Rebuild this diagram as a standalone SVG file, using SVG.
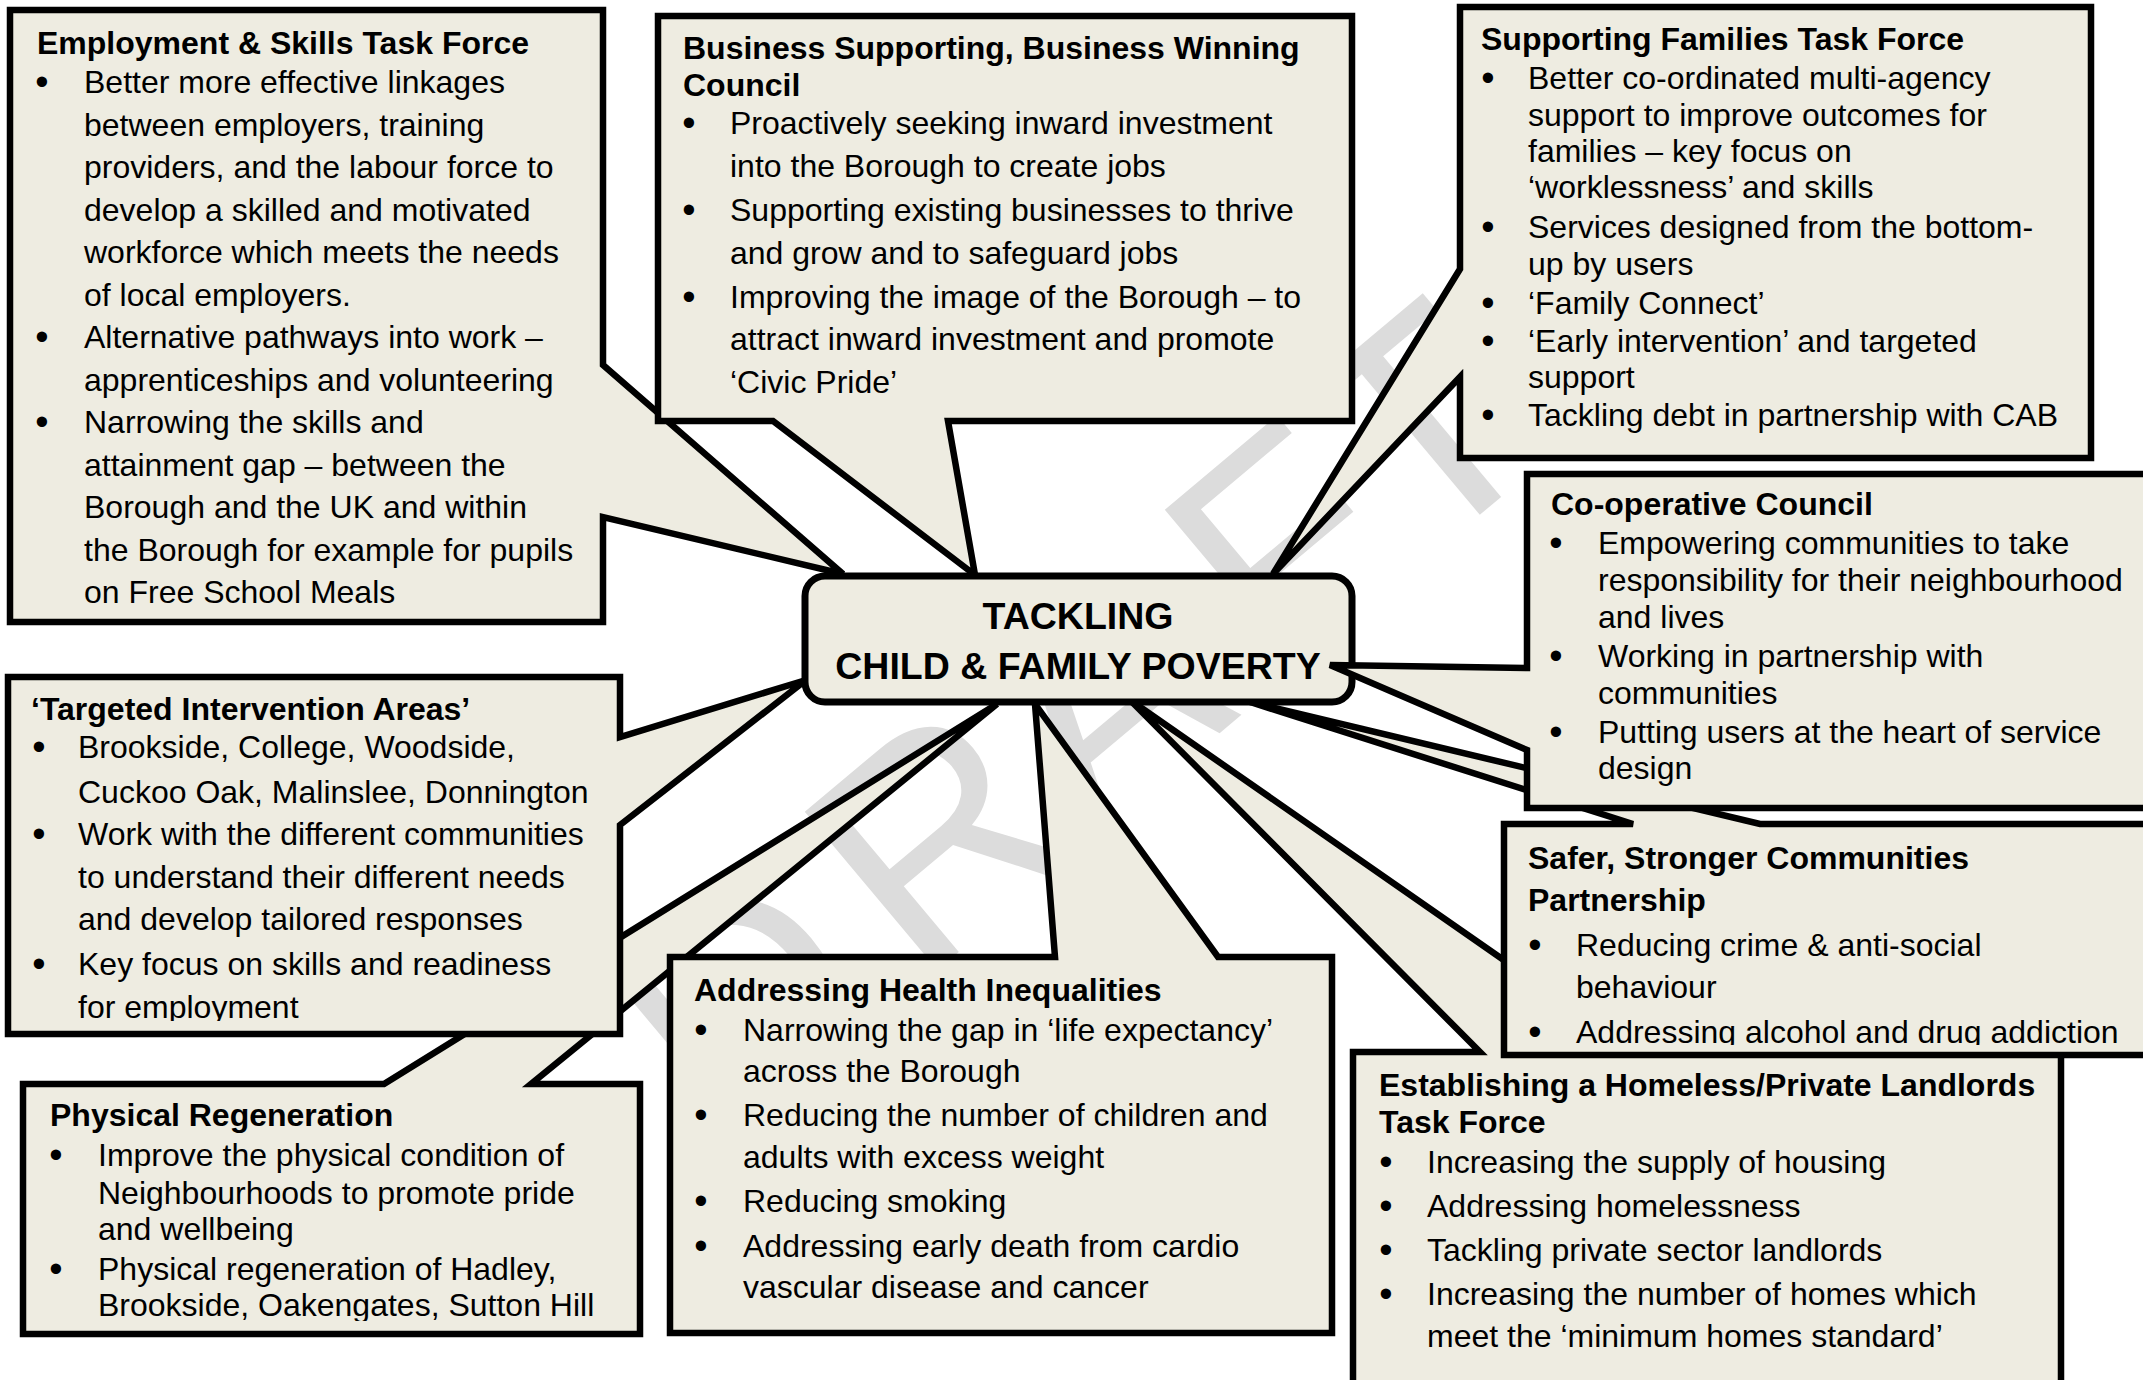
<svg xmlns="http://www.w3.org/2000/svg" width="2143" height="1380" viewBox="0 0 2143 1380">
<style>
.box{fill:#EEECE1;stroke:#000;stroke-width:6.5;stroke-linejoin:miter;stroke-miterlimit:4}
.hub{fill:#EEECE1;stroke:#000;stroke-width:7}
.t{font-family:"Liberation Sans",Arial,sans-serif;font-size:32px;fill:#000}
.h{font-weight:bold}
.bu{text-anchor:middle;font-size:38px}
.c{font-family:"Liberation Sans",Arial,sans-serif;font-size:37.5px;font-weight:bold;text-anchor:middle;fill:#000}
.wm{font-family:"Liberation Sans",Arial,sans-serif;font-size:300px;fill:#dcdcdc}
</style>
<defs>
<clipPath id="clipTarg"><rect x="0" y="670" width="640" height="351"/></clipPath>
<clipPath id="clipPhys"><rect x="0" y="1080" width="660" height="241"/></clipPath>
<clipPath id="clipSafer"><rect x="1500" y="820" width="660" height="225"/></clipPath>
</defs>
<rect width="2143" height="1380" fill="#fff"/>
<g id="watermark">
<text class="wm" transform="translate(724,1149) rotate(-40)" x="0 254 476 724 909" y="0">DRAFT</text>
</g>
<g id="connectors">
<!-- callout tails are part of each callout outline -->
</g>
<g id="physical">
<path class="box" d="M23,1084 H384 L997,704 L531,1084 H640 V1334 H23 Z"/>
<g clip-path="url(#clipPhys)">
<text class="t h" x="50" y="1126">Physical Regeneration</text>
<text class="t bu" x="56" y="1168">•</text>
<text class="t" x="98" y="1166">Improve the physical condition of</text>
<text class="t" x="98" y="1203.5">Neighbourhoods to promote pride</text>
<text class="t" x="98" y="1240">and wellbeing</text>
<text class="t bu" x="56" y="1281.5">•</text>
<text class="t" x="98" y="1279.5">Physical regeneration of Hadley,</text>
<text class="t" x="98" y="1316">Brookside, Oakengates, Sutton Hill</text>
</g>
</g>
<g id="targeted">
<path class="box" d="M8,677 H620 V737 L806,680 L620,825 V1034 H8 Z"/>
<g clip-path="url(#clipTarg)">
<text class="t h" x="31" y="720">‘Targeted Intervention Areas’</text>
<text class="t bu" x="39" y="760">•</text>
<text class="t" x="78" y="758">Brookside, College, Woodside,</text>
<text class="t" x="78" y="802.5">Cuckoo Oak, Malinslee, Donnington</text>
<text class="t bu" x="39" y="847">•</text>
<text class="t" x="78" y="845">Work with the different communities</text>
<text class="t" x="78" y="888">to understand their different needs</text>
<text class="t" x="78" y="930">and develop tailored responses</text>
<text class="t bu" x="39" y="977">•</text>
<text class="t" x="78" y="975">Key focus on skills and readiness</text>
<text class="t" x="78" y="1017.5">for employment</text>
</g>
</g>
<g id="health">
<path class="box" d="M670,957 H1055 L1035,704 L1218,957 H1332 V1333 H670 Z"/>
<text class="t h" x="694" y="1001">Addressing Health Inequalities</text>
<text class="t bu" x="701" y="1043">•</text>
<text class="t" x="743" y="1041">Narrowing the gap in ‘life expectancy’</text>
<text class="t" x="743" y="1081.5">across the Borough</text>
<text class="t bu" x="701" y="1128">•</text>
<text class="t" x="743" y="1126">Reducing the number of children and</text>
<text class="t" x="743" y="1167.5">adults with excess weight</text>
<text class="t bu" x="701" y="1214">•</text>
<text class="t" x="743" y="1212">Reducing smoking</text>
<text class="t bu" x="701" y="1259">•</text>
<text class="t" x="743" y="1257">Addressing early death from cardio</text>
<text class="t" x="743" y="1298">vascular disease and cancer</text>
</g>
<g id="employment">
<path class="box" d="M10,10 H603 V365 L843,574 L603,517 V622 H10 Z"/>
<text class="t h" x="37" y="54">Employment &amp; Skills Task Force</text>
<text class="t bu" x="42" y="95">•</text>
<text class="t" x="84" y="93">Better more effective linkages</text>
<text class="t" x="84" y="135.5">between employers, training</text>
<text class="t" x="84" y="178">providers, and the labour force to</text>
<text class="t" x="84" y="220.5">develop a skilled and motivated</text>
<text class="t" x="84" y="263">workforce which meets the needs</text>
<text class="t" x="84" y="305.5">of local employers.</text>
<text class="t bu" x="42" y="350">•</text>
<text class="t" x="84" y="348">Alternative pathways into work –</text>
<text class="t" x="84" y="390.5">apprenticeships and volunteering</text>
<text class="t bu" x="42" y="435">•</text>
<text class="t" x="84" y="433">Narrowing the skills and</text>
<text class="t" x="84" y="475.5">attainment gap – between the</text>
<text class="t" x="84" y="518">Borough and the UK and within</text>
<text class="t" x="84" y="560.5">the Borough for example for pupils</text>
<text class="t" x="84" y="603">on Free School Meals</text>
</g>
<g id="business">
<path class="box" d="M658,16 H1352 V421 H948 L975,575 L773,421 H658 Z"/>
<text class="t h" x="683" y="59">Business Supporting, Business Winning</text>
<text class="t h" x="683" y="96">Council</text>
<text class="t bu" x="689" y="136">•</text>
<text class="t" x="730" y="134">Proactively seeking inward investment</text>
<text class="t" x="730" y="177">into the Borough to create jobs</text>
<text class="t bu" x="689" y="223">•</text>
<text class="t" x="730" y="221">Supporting existing businesses to thrive</text>
<text class="t" x="730" y="264">and grow and to safeguard jobs</text>
<text class="t bu" x="689" y="310">•</text>
<text class="t" x="730" y="308">Improving the image of the Borough – to</text>
<text class="t" x="730" y="350">attract inward investment and promote</text>
<text class="t" x="730" y="393">‘Civic Pride’</text>
</g>
<g id="homeless">
<path class="box" d="M1353,1052 H1480 L1130,700 L1636,1052 H2061 V1400 H1353 Z"/>
<text class="t h" x="1379" y="1096">Establishing a Homeless/Private Landlords</text>
<text class="t h" x="1379" y="1133">Task Force</text>
<text class="t bu" x="1386" y="1175">•</text>
<text class="t" x="1427" y="1173">Increasing the supply of housing</text>
<text class="t bu" x="1386" y="1219">•</text>
<text class="t" x="1427" y="1217">Addressing homelessness</text>
<text class="t bu" x="1386" y="1263">•</text>
<text class="t" x="1427" y="1261">Tackling private sector landlords</text>
<text class="t bu" x="1386" y="1307">•</text>
<text class="t" x="1427" y="1305">Increasing the number of homes which</text>
<text class="t" x="1427" y="1347">meet the ‘minimum homes standard’</text>
</g>
<g id="safer">
<path class="box" d="M1504,824 H1633 L1250,702 L1760,824 H2160 V1055 H1504 Z"/>
<g clip-path="url(#clipSafer)">
<text class="t h" x="1528" y="869">Safer, Stronger Communities</text>
<text class="t h" x="1528" y="911">Partnership</text>
<text class="t bu" x="1535" y="958">•</text>
<text class="t" x="1576" y="956">Reducing crime &amp; anti-social</text>
<text class="t" x="1576" y="998">behaviour</text>
<text class="t bu" x="1535" y="1045">•</text>
<text class="t" x="1576" y="1043">Addressing alcohol and drug addiction</text>
</g>
</g>
<g id="families">
<path class="box" d="M1460,7 H2091 V458 H1460 V377 L1273,574 L1460,269 Z"/>
<text class="t h" x="1481" y="50">Supporting Families Task Force</text>
<text class="t bu" x="1488" y="91">•</text>
<text class="t" x="1528" y="89">Better co-ordinated multi-agency</text>
<text class="t" x="1528" y="125.5">support to improve outcomes for</text>
<text class="t" x="1528" y="161.5">families – key focus on</text>
<text class="t" x="1528" y="198">‘worklessness’ and skills</text>
<text class="t bu" x="1488" y="240">•</text>
<text class="t" x="1528" y="238">Services designed from the bottom-</text>
<text class="t" x="1528" y="274.5">up by users</text>
<text class="t bu" x="1488" y="316">•</text>
<text class="t" x="1528" y="314">‘Family Connect’</text>
<text class="t bu" x="1488" y="354">•</text>
<text class="t" x="1528" y="352">‘Early intervention’ and targeted</text>
<text class="t" x="1528" y="388">support</text>
<text class="t bu" x="1488" y="428">•</text>
<text class="t" x="1528" y="426">Tackling debt in partnership with CAB</text>
</g>
<g id="hub">
<rect class="hub" x="805" y="576" width="547" height="126" rx="20" ry="20"/>
<text class="c" x="1078" y="629">TACKLING</text>
<text class="c" x="1078" y="679">CHILD &amp; FAMILY POVERTY</text>
</g>
<g id="cooperative">
<path class="box" d="M1527,474 H2160 V808 H1527 V750 L1330,665 L1527,668 Z"/>
<text class="t h" x="1551" y="515">Co-operative Council</text>
<text class="t bu" x="1556" y="556">•</text>
<text class="t" x="1598" y="554">Empowering communities to take</text>
<text class="t" x="1598" y="591">responsibility for their neighbourhood</text>
<text class="t" x="1598" y="628">and lives</text>
<text class="t bu" x="1556" y="669">•</text>
<text class="t" x="1598" y="667">Working in partnership with</text>
<text class="t" x="1598" y="704">communities</text>
<text class="t bu" x="1556" y="745">•</text>
<text class="t" x="1598" y="743">Putting users at the heart of service</text>
<text class="t" x="1598" y="779">design</text>
</g>
</svg>
